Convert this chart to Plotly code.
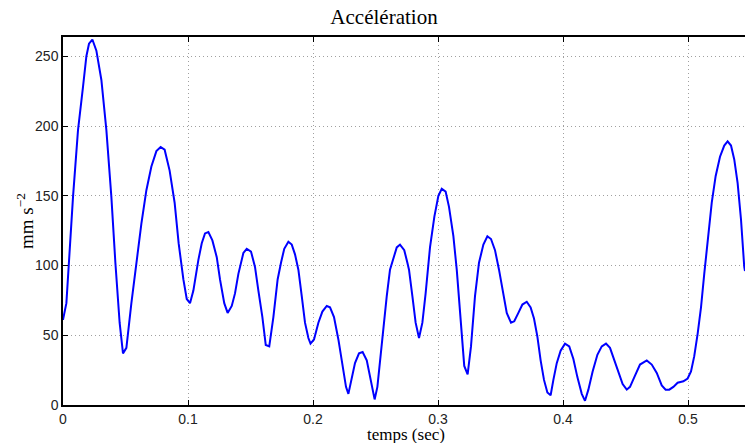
import plotly.graph_objects as go

# time samples (s) and acceleration (mm s^-2)
temps = [
    0.000, 0.0027, 0.008, 0.012, 0.016, 0.0187, 0.0208, 0.0235, 0.0267, 0.0307,
    0.0347, 0.0387, 0.0419, 0.0453, 0.048, 0.0507, 0.0547, 0.0587, 0.0627, 0.0667,
    0.0707, 0.0747, 0.0781, 0.0813, 0.0853, 0.0893, 0.0925, 0.0963, 0.0990, 0.1016,
    0.1043, 0.1083, 0.1110, 0.1136, 0.1163, 0.1195, 0.1230, 0.1256, 0.1290, 0.1317,
    0.1350, 0.1376, 0.1403, 0.1443, 0.1470, 0.1504, 0.1536, 0.1563, 0.1595, 0.1622,
    0.1650, 0.1683, 0.1717, 0.1744, 0.1770, 0.1803, 0.1830, 0.1856, 0.1883, 0.1910,
    0.1936, 0.1963, 0.1980, 0.2008, 0.2043, 0.2075, 0.2110, 0.2136, 0.2168, 0.2203,
    0.2237, 0.2264, 0.2283, 0.2310, 0.2336, 0.2368, 0.2397, 0.2430, 0.2456, 0.2477,
    0.2493, 0.2515, 0.2536, 0.2563, 0.2590, 0.2616, 0.2643, 0.2670, 0.2696, 0.2730,
    0.2755, 0.2768, 0.2795, 0.2821, 0.2848, 0.2875, 0.2901, 0.2936, 0.2971, 0.3003,
    0.3030, 0.3061, 0.3088, 0.3123, 0.3150, 0.3176, 0.3195, 0.3210, 0.3237, 0.3264,
    0.3296, 0.3328, 0.3363, 0.3395, 0.3424, 0.3456, 0.3488, 0.3523, 0.3550, 0.3584,
    0.3610, 0.3643, 0.3675, 0.3710, 0.3741, 0.3768, 0.3795, 0.3821, 0.3848, 0.3875,
    0.3901, 0.3923, 0.3950, 0.3981, 0.4016, 0.4050, 0.4083, 0.4115, 0.4150, 0.4176,
    0.4203, 0.4237, 0.4275, 0.4310, 0.4344, 0.4376, 0.4408, 0.4443, 0.4477, 0.4510,
    0.4536, 0.4576, 0.4616, 0.4670, 0.4710, 0.4750, 0.4790, 0.4821, 0.4850, 0.4883,
    0.4917, 0.4963, 0.4997, 0.5024, 0.5050, 0.5077, 0.5104, 0.5130, 0.5157, 0.5190,
    0.5221, 0.5256, 0.5290, 0.5317, 0.5344, 0.5370, 0.5397, 0.5424, 0.5450, 0.5456,
]
acceleration = [
    61, 73, 149, 197, 228, 250, 259, 262, 254, 233,
    197, 149, 102, 59, 37, 41, 73, 102, 130, 154,
    171, 182, 185, 183, 168, 145, 116, 90, 76, 73,
    82, 104, 116, 123, 124, 118, 106, 90, 73, 66,
    71, 80, 94, 109, 112, 110, 99, 82, 63, 43,
    42, 63, 90, 102, 112, 117, 115, 108, 97, 78,
    59, 48, 44, 47, 59, 67, 71, 70, 63, 47,
    28, 13, 8, 19, 30, 37, 38, 32, 20, 11,
    4, 13, 32, 56, 78, 97, 106, 113, 115, 111,
    102, 97, 78, 59, 48, 59, 80, 113, 135, 150,
    155, 153, 142, 121, 97, 68, 44, 28, 22, 42,
    78, 102, 115, 121, 119, 111, 97, 78, 66, 59,
    60, 66, 72, 74, 70, 62, 49, 32, 18, 9,
    7, 18, 30, 39, 44, 42, 33, 20, 8, 3,
    11, 24, 36, 42, 44, 41, 33, 24, 15, 11,
    13, 21, 29, 32, 29, 23, 14, 11, 11, 13,
    16, 17, 19, 24, 35, 51, 70, 94, 118, 145,
    164, 178, 186, 189, 186, 176, 159, 133, 99, 96,
]

x_ticks = [0, 0.1, 0.2, 0.3, 0.4, 0.5]
x_labels = ["0", "0.1", "0.2", "0.3", "0.4", "0.5"]
y_ticks = [0, 50, 100, 150, 200, 250]

SERIF = "Liberation Serif, Times New Roman, serif"
SANS = "Liberation Sans, Arial, sans-serif"
W, H = 745, 443

fig = go.Figure(go.Scatter(
    x=temps,
    y=acceleration,
    mode="lines",
    line=dict(color="#0000FF", width=2),
    hoverinfo="skip",
))

axis_common = dict(
    showgrid=True,
    gridcolor="#a0a0a0",
    griddash="1px,3px",
    gridwidth=1,
    zeroline=False,
    showline=True,
    linecolor="black",
    linewidth=1.5,
    ticks="inside",
    ticklen=5,
    tickcolor="black",
    tickfont=dict(family=SANS, size=14, color="#222"),
    automargin=False,
)

fig.update_layout(
    width=W,
    height=H,
    margin=dict(l=63, r=0, t=37, b=38),
    paper_bgcolor="white",
    plot_bgcolor="white",
    showlegend=False,
    title=dict(
        text="Accélération",
        x=384 / W,
        xanchor="center",
        y=1 - 17 / H,
        yanchor="middle",
        font=dict(family=SERIF, size=21, color="black"),
    ),
    xaxis=dict(
        **axis_common,
        range=[0, 0.5456],
        tickvals=x_ticks,
        ticktext=x_labels,
        mirror="ticks",
    ),
    yaxis=dict(
        **axis_common,
        range=[0, 263.8],
        tickvals=y_ticks,
        mirror=False,
    ),
    annotations=[
        dict(text="temps (sec)", xref="paper", yref="paper",
             x=(406 - 63) / (W - 63), y=-29 / 368, xanchor="center", yanchor="middle",
             showarrow=False, font=dict(family=SERIF, size=17, color="black")),
        dict(text="mm s<sup>−2</sup>", xref="paper", yref="paper",
             x=-38 / (W - 63), y=0.5, xanchor="center", yanchor="middle", textangle=-90,
             showarrow=False, font=dict(family=SERIF, size=19, color="black")),
    ],
)

# the default page has an 8px body margin; drop it so the figure fills the window
fig.write_html("out.html", config={"displayModeBar": False},
               post_script="document.body.style.margin='0';")
